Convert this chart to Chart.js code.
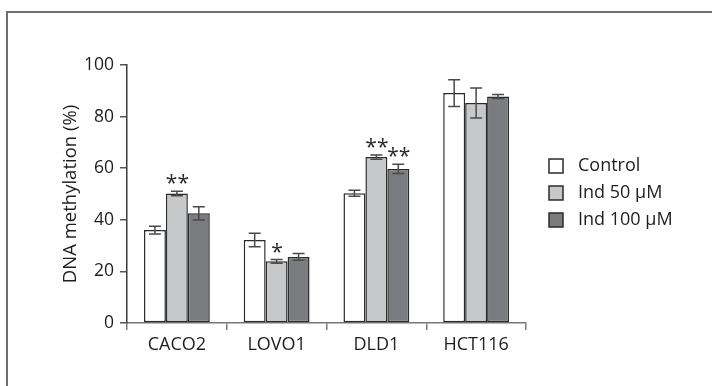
<!DOCTYPE html>
<html>
<head>
<meta charset="utf-8">
<script src="https://cdn.jsdelivr.net/npm/chart.js@4/dist/chart.umd.min.js"></script>
<style>
  html, body { margin: 0; padding: 0; background: #fff; }
  #wrap { width: 712px; height: 386px; }
</style>
</head>
<body>
<div id="wrap"><canvas id="c" width="712" height="386"></canvas></div>
<script>
// Cell lines and treatment groups
const categories = ['CACO2', 'LOVO1', 'DLD1', 'HCT116'];
const seriesNames = ['Control', 'Ind 50 μM', 'Ind 100 μM'];

// Mean DNA methylation (%)
const controlValues = [36.0, 32.2, 50.3, 89.1];
const ind50Values = [50.2, 23.9, 64.3, 85.3];
const ind100Values = [42.5, 25.6, 59.7, 87.8];

// Error bar half-lengths (%)
const controlErrors = [1.5, 2.6, 1.2, 5.2];
const ind50Errors = [0.9, 0.7, 0.8, 5.8];
const ind100Errors = [2.6, 1.3, 1.8, 0.8];

// Significance marks
const controlMarks = ['', '', '', ''];
const ind50Marks = ['**', '*', '**', ''];
const ind100Marks = ['', '', '**', ''];

// Y axis ticks
const yTicks = [0, 20, 40, 60, 80, 100];

const FONT = '"Open Sans", "Noto Sans", sans-serif';
const TEXT = '#1e1e1e';

const fills = ['#ffffff', '#c7c8ca', '#7b7c80'];
const valuesBySeries = [controlValues, ind50Values, ind100Values];
const errorsBySeries = [controlErrors, ind50Errors, ind100Errors];
const marksBySeries = [controlMarks, ind50Marks, ind100Marks];

const datasets = seriesNames.map((name, i) => ({
  label: name,
  data: valuesBySeries[i],
  errors: errorsBySeries[i],
  marks: marksBySeries[i],
  backgroundColor: fills[i],
  borderColor: '#2b2b2b',
  borderWidth: 1.5,
  borderSkipped: false,
  categoryPercentage: 0.66,
  barPercentage: 1.0
}));

// Error bars, significance stars, legend and the page frame
const decorations = {
  id: 'decorations',
  beforeDraw(chart) {
    const ctx = chart.ctx;
    ctx.save();
    ctx.strokeStyle = '#6e6e6e';
    ctx.lineWidth = 2;
    ctx.beginPath();
    ctx.moveTo(7, 386);
    ctx.lineTo(7, 12);
    ctx.lineTo(712, 12);
    ctx.stroke();
    ctx.restore();
  },
  afterDatasetsDraw(chart) {
    const ctx = chart.ctx;
    const y = chart.scales.y;
    ctx.save();
    chart.data.datasets.forEach((ds, di) => {
      const meta = chart.getDatasetMeta(di);
      meta.data.forEach((bar, i) => {
        const v = ds.data[i];
        const e = ds.errors[i];
        const top = y.getPixelForValue(v + e);
        const bot = y.getPixelForValue(v - e);
        const x = bar.x;
        ctx.strokeStyle = '#4a4a4a';
        ctx.lineWidth = 1.5;
        ctx.beginPath();
        ctx.moveTo(x, top); ctx.lineTo(x, bot);
        ctx.moveTo(x - 6, top); ctx.lineTo(x + 6, top);
        ctx.moveTo(x - 6, bot); ctx.lineTo(x + 6, bot);
        ctx.stroke();
        const mark = ds.marks[i];
        if (mark) {
          ctx.fillStyle = '#2a2a2a';
          ctx.font = '21px ' + FONT;
          ctx.textAlign = 'center';
          ctx.textBaseline = 'middle';
          ctx.fillText(mark, x + 0.5, top - 7);
        }
      });
    });
    ctx.restore();
  },
  afterDraw(chart) {
    const ctx = chart.ctx;
    ctx.save();
    const rows = [166, 193, 220];
    chart.data.datasets.forEach((ds, i) => {
      const cy = rows[i];
      ctx.fillStyle = ds.backgroundColor;
      ctx.fillRect(549, cy - 7, 14, 14);
      ctx.strokeStyle = '#2b2b2b';
      ctx.lineWidth = 1.5;
      ctx.strokeRect(549, cy - 7, 14, 14);
      ctx.fillStyle = TEXT;
      ctx.font = '18px ' + FONT;
      ctx.textAlign = 'left';
      ctx.textBaseline = 'middle';
      ctx.fillText(ds.label, 578, cy);
    });
    ctx.restore();
  }
};

new Chart(document.getElementById('c'), {
  type: 'bar',
  data: { labels: categories, datasets },
  plugins: [decorations],
  options: {
    responsive: false,
    animation: false,
    devicePixelRatio: 1,
    layout: { padding: { left: 55, right: 186, top: 65, bottom: 0 } },
    plugins: { legend: { display: false }, tooltip: { enabled: false } },
    scales: {
      x: {
        type: 'category',
        grid: { offset: true, drawOnChartArea: false, drawTicks: true, tickLength: 7, color: '#7a7a7a', lineWidth: 1.5 },
        border: { display: true, color: '#777777', width: 1.5 },
        ticks: { color: TEXT, font: { family: FONT, size: 18 }, padding: 4 },
        afterFit(s) { s.height = 63; }
      },
      y: {
        min: 0,
        max: 100,
        afterBuildTicks(s) { s.ticks = yTicks.map(v => ({ value: v })); },
        grid: { drawOnChartArea: false, drawTicks: true, tickLength: 7, color: '#555555', lineWidth: 1.5 },
        border: { display: true, color: '#3a3a3a', width: 1.5 },
        ticks: { color: TEXT, font: { family: FONT, size: 17.5 }, padding: 6 },
        title: { display: true, text: 'DNA methylation (%)', color: TEXT, font: { family: FONT, size: 18.5 }, padding: { top: 5, bottom: 0 } },
        afterFit(s) { s.width = 72; }
      }
    }
  }
});
</script>
</body>
</html>
